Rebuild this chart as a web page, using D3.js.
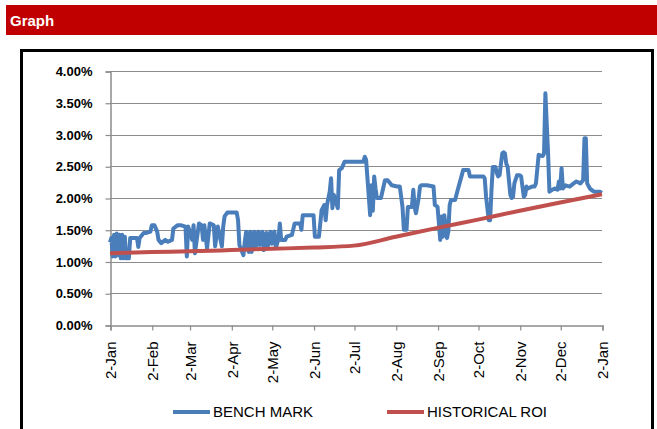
<!DOCTYPE html>
<html>
<head>
<meta charset="utf-8">
<script src="https://cdn.jsdelivr.net/npm/d3@7"></script>
<style>
    body { margin: 0; background: #fff; }
    svg { display: block; }
</style>
</head>
<body>
<svg id="chartsvg" width="657" height="429"></svg>
<script>
// tick dates on the x axis (2nd of every month)
var monthTicks = ["2013-01-02", "2013-02-02", "2013-03-02", "2013-04-02", "2013-05-02", "2013-06-02",
                  "2013-07-02", "2013-08-02", "2013-09-02", "2013-10-02", "2013-11-02", "2013-12-02", "2014-01-02"]
var yTicks = [0, 0.5, 1, 1.5, 2, 2.5, 3, 3.5, 4]

// BENCH MARK: [days after 2-Jan, value in %]
var benchMark = [
    [0,1.30],[1,1.37],[2,1.08],[3,1.42],[4,1.08],[5,1.44],[6,1.10],[7,1.42],[8,1.05],[9,1.42],[10,1.05],
    [11,1.39],[12,1.05],[14,1.05],[15,1.37],[20,1.37],[21,1.23],[22,1.37],[25,1.45],[27,1.45],[30,1.47],
    [31,1.57],[33,1.57],[35,1.47],[36,1.34],[38,1.29],[41,1.34],[43,1.31],[46,1.34],[47,1.52],[50,1.57],
    [53,1.57],[56,1.55],[57,1.08],[58,1.55],[61,1.34],[62,1.57],[63,1.13],[66,1.60],[68,1.57],[69,1.34],
    [70,1.57],[72,1.21],[74,1.60],[77,1.57],[78,1.24],[80,1.55],[83,1.24],[84,1.55],[85,1.71],[87,1.77],
    [94,1.77],[95,1.65],[96,1.26],[99,1.10],[100,1.31],[101,1.47],[103,1.15],[104,1.47],[105,1.15],
    [107,1.47],[108,1.21],[110,1.47],[111,1.26],[113,1.47],[114,1.18],[116,1.45],[117,1.23],[119,1.47],
    [120,1.28],[122,1.47],[123,1.21],[125,1.36],[126,1.60],[127,1.34],[130,1.34],[131,1.39],[135,1.42],
    [137,1.60],[141,1.60],[142,1.50],[143,1.73],[151,1.73],[152,1.39],[155,1.39],[157,1.81],[159,1.89],
    [160,1.65],[161,1.89],[163,2.10],[164,2.31],[165,1.84],[166,2.05],[169,1.84],[170,2.44],[172,2.47],
    [174,2.57],[188,2.57],[189,2.65],[190,2.60],[192,2.02],[193,1.73],[194,2.20],[195,1.80],[196,2.34],
    [197,2.15],[198,2.00],[201,2.00],[204,2.28],[206,2.28],[209,2.20],[213,2.18],[215,2.18],[217,1.86],
    [218,1.50],[220,1.50],[221,1.86],[224,1.86],[225,2.13],[226,1.86],[227,1.76],[229,2.00],[230,2.18],
    [231,2.20],[235,2.20],[240,2.18],[241,1.89],[243,1.86],[245,1.34],[246,1.71],[247,1.39],[248,1.73],
    [250,1.37],[251,1.47],[252,1.89],[253,1.97],[256,1.97],[258,2.13],[261,2.36],[262,2.44],[266,2.44],
    [267,2.34],[277,2.34],[278,2.31],[279,2.02],[281,1.65],[282,1.65],[283,2.12],[284,2.49],[286,2.49],
    [287,2.39],[288,2.34],[289,2.36],[291,2.70],[292,2.72],[293,2.70],[294,2.54],[295,2.49],[297,2.05],
    [298,2.00],[299,2.02],[300,2.23],[302,2.36],[304,2.36],[305,2.34],[307,2.02],[308,2.05],[309,2.18],
    [310,2.15],[313,2.18],[315,2.18],[316,2.23],[318,2.68],[321,2.66],[322,2.70],[323,3.65],[325,2.70],
    [326,2.10],[328,2.13],[330,2.15],[332,2.13],[333,2.26],[334,2.15],[335,2.47],[336,2.15],[338,2.20],
    [341,2.18],[344,2.23],[346,2.26],[349,2.23],[351,2.28],[352,2.94],[353,2.94],[354,2.23],[356,2.15],
    [357,2.13],[359,2.10],[363,2.10],[365,2.08]
]

// HISTORICAL ROI, one value per month
var roiDates = monthTicks
var roiValues = [1.13, 1.15, 1.16, 1.18, 1.20, 1.22, 1.25, 1.39, 1.53, 1.66, 1.80, 1.93, 2.06]

var seriesNames = ["BENCH MARK", "HISTORICAL ROI"]
var seriesColors = ["#4a7ebb", "#c0504d"]

var svg = d3.select("#chartsvg")
var parse = d3.timeParse("%Y-%m-%d")
var startDate = parse(monthTicks[0])

// header bar
svg.append("rect")
    .attr("x", 6).attr("y", 5)
    .attr("width", 651).attr("height", 30)
    .attr("fill", "#c00000")
svg.append("text")
    .attr("x", 10).attr("y", 26)
    .attr("fill", "#fff")
    .attr("font-family", "Liberation Sans, Arial, sans-serif")
    .attr("font-weight", "bold")
    .attr("font-size", "15px")
    .text("Graph")

// chart frame
svg.append("rect")
    .attr("x", 21.5).attr("y", 50.5)
    .attr("width", 631).attr("height", 400)
    .attr("fill", "none")
    .attr("stroke", "#000")
    .attr("stroke-width", 3)

var x = d3.scaleTime()
    .domain([parse(monthTicks[0]), parse(monthTicks[monthTicks.length - 1])])
    .range([110, 602])
var y = d3.scaleLinear()
    .domain([0, 4])
    .range([325, 71])

var gridColor = "#8c8c8c"

// gridlines
svg.append("g").selectAll("line")
    .data(yTicks.slice(1))
    .enter()
    .append("line")
    .attr("x1", 110).attr("x2", 602)
    .attr("y1", function(d) { return Math.round(y(d)) + 0.5 })
    .attr("y2", function(d) { return Math.round(y(d)) + 0.5 })
    .attr("stroke", gridColor)
    .attr("stroke-width", 1.2)

// y axis
var yAxis = svg.append("g")
    .attr("transform", "translate(110.5,0.5)")
    .call(d3.axisLeft(y).tickValues(yTicks).tickSize(5).tickPadding(13)
        .tickFormat(function(d) { return d3.format(".2f")(d) + "%" }))
yAxis.select(".domain").attr("stroke", gridColor).attr("stroke-width", 1.5)
yAxis.selectAll(".tick line").attr("stroke", gridColor).attr("stroke-width", 1.2)
yAxis.selectAll("text")
    .attr("fill", "#000")
    .attr("font-family", "Liberation Sans, Arial, sans-serif")
    .attr("font-weight", "bold")
    .attr("font-size", "13px")

// x axis
var xAxis = svg.append("g")
    .attr("transform", "translate(0.5,325.5)")
    .call(d3.axisBottom(x).tickValues(monthTicks.map(parse)).tickSize(5)
        .tickFormat(d3.timeFormat("%-d-%b")))
xAxis.select(".domain").attr("stroke", gridColor).attr("stroke-width", 1.5)
xAxis.selectAll(".tick line").attr("stroke", gridColor).attr("stroke-width", 1.2)
xAxis.selectAll("text")
    .attr("fill", "#000")
    .attr("font-family", "Liberation Sans, Arial, sans-serif")
    .attr("font-size", "15px")
    .attr("text-anchor", "end")
    .attr("transform", "rotate(-90)")
    .attr("x", -16)
    .attr("y", 0)
    .attr("dy", "0.35em")

var line = d3.line()
    .x(function(d) { return x(d[0]) })
    .y(function(d) { return y(d[1]) })

var roiData = roiDates.map(function(d, i) { return [parse(d), roiValues[i]] })
var benchData = benchMark.map(function(d) { return [d3.timeDay.offset(startDate, d[0]), d[1]] })

svg.append("path")
    .attr("d", line(benchData))
    .attr("fill", "none")
    .attr("stroke", seriesColors[0])
    .attr("stroke-width", 4)
    .attr("stroke-linejoin", "round")

svg.append("path")
    .attr("d", line.curve(d3.curveMonotoneX)(roiData))
    .attr("fill", "none")
    .attr("stroke", seriesColors[1])
    .attr("stroke-width", 4)
    .attr("stroke-linejoin", "round")

// legend
var legendX = [173, 387]
var legend = svg.selectAll(".legend")
    .data(seriesNames)
    .enter()
    .append("g")
    .attr("class", "legend")
    .attr("transform", function(d, i) { return "translate(" + legendX[i] + ",412)" })
legend.append("line")
    .attr("x1", 0).attr("x2", 37)
    .attr("stroke", function(d, i) { return seriesColors[i] })
    .attr("stroke-width", 4)
legend.append("text")
    .attr("x", 40)
    .attr("dy", "0.36em")
    .attr("font-family", "Liberation Sans, Arial, sans-serif")
    .attr("font-size", "15px")
    .text(function(d) { return d })
</script>
</body>
</html>
